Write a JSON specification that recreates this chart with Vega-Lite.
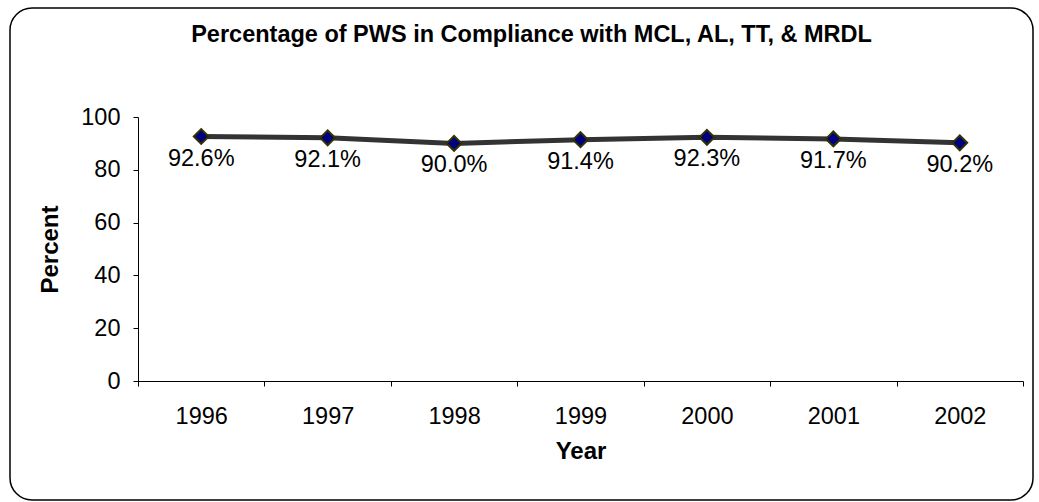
{
  "$schema": "https://vega.github.io/schema/vega-lite/v6.json",
  "width": 1023,
  "height": 492,
  "autosize": {"type": "none"},
  "padding": {"left": 10, "top": 8, "right": 6, "bottom": 2},
  "background": "white",
  "config": {
    "view": {"stroke": "black", "strokeWidth": 1.5, "cornerRadius": 22, "fill": "white"},
    "font": "Liberation Sans"
  },
  "title": {
    "text": "Percentage of PWS in Compliance with MCL, AL, TT, & MRDL",
    "fontSize": 23.5,
    "fontWeight": "bold",
    "font": "Liberation Sans",
    "color": "black",
    "anchor": "middle",
    "frame": "group",
    "baseline": "middle",
    "offset": -50,
    "dx": 10
  },
  "data": {
    "values": [
      {"year": "1996", "pct": 92.6, "label": "92.6%"},
      {"year": "1997", "pct": 92.1, "label": "92.1%"},
      {"year": "1998", "pct": 90.0, "label": "90.0%"},
      {"year": "1999", "pct": 91.4, "label": "91.4%"},
      {"year": "2000", "pct": 92.3, "label": "92.3%"},
      {"year": "2001", "pct": 91.7, "label": "91.7%"},
      {"year": "2002", "pct": 90.2, "label": "90.2%"}
    ]
  },
  "encoding": {
    "x": {
      "field": "year",
      "type": "ordinal",
      "scale": {"range": [128, 1013], "paddingInner": 0, "paddingOuter": 0},
      "axis": {
        "offset": -119,
        "tickBand": "extent",
        "labelAngle": 0,
        "domainColor": "black",
        "domainWidth": 1,
        "tickColor": "black",
        "tickSize": 5,
        "labelFontSize": 23.5,
        "labelColor": "black",
        "labelPadding": 18,
        "title": "Year",
        "titleFontSize": 24,
        "titleFontWeight": "bold",
        "titleColor": "black",
        "titlePadding": 12,
        "grid": false
      }
    },
    "y": {
      "field": "pct",
      "type": "quantitative",
      "scale": {"domain": [0, 100], "range": [373, 109]},
      "axis": {
        "offset": -128,
        "values": [0, 20, 40, 60, 80, 100],
        "domainColor": "black",
        "tickColor": "black",
        "tickSize": 5,
        "labelFontSize": 23.5,
        "labelColor": "black",
        "labelPadding": 13,
        "title": "Percent",
        "titleFontSize": 24,
        "titleFontWeight": "bold",
        "titleColor": "black",
        "titlePadding": 18,
        "grid": false
      }
    }
  },
  "layer": [
    {"mark": {"type": "line", "color": "#333333", "strokeWidth": 5}},
    {"mark": {"type": "point", "shape": "diamond", "filled": true, "fill": "#000080", "stroke": "#333300", "strokeWidth": 2, "size": 220, "opacity": 1}},
    {"mark": {"type": "text", "fontSize": 23.5, "dy": 22, "color": "black"}, "encoding": {"text": {"field": "label"}}}
  ]
}
